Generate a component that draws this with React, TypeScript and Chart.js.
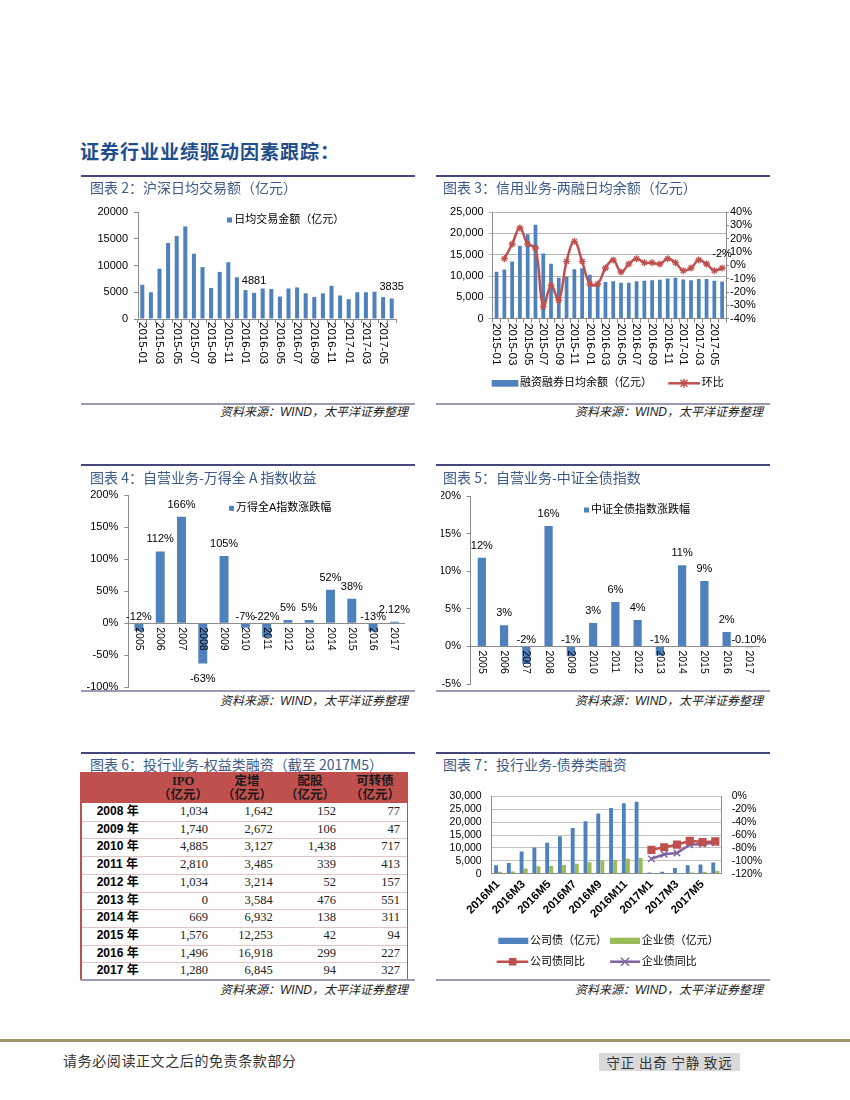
import React, { useEffect, useRef } from 'react';
import { Chart, registerables } from 'chart.js';

Chart.register(...registerables);

const SANS = "'Liberation Sans', Arial, 'Noto Sans CJK SC', sans-serif";
const CJK = "'Noto Sans CJK SC', 'Liberation Sans', sans-serif";
const SERIF = "'Liberation Serif', 'Noto Sans CJK SC', serif";

const BLUE = '#4F81BD';
const GREEN = '#9BBB59';
const RED = '#C0504D';
const PURPLE = '#8064A2';
const AXIS = '#8C8C8C';
const GRID = '#B4B4B4';
const TITLE = '#3D5A8A';
const RULE_TOP = '#46467F';
const RULE_BOTTOM = '#9A9AB5';

// ---------- data ----------
const months = [
  '2015-01', '2015-02', '2015-03', '2015-04', '2015-05', '2015-06', '2015-07', '2015-08', '2015-09', '2015-10',
  '2015-11', '2015-12', '2016-01', '2016-02', '2016-03', '2016-04', '2016-05', '2016-06', '2016-07', '2016-08',
  '2016-09', '2016-10', '2016-11', '2016-12', '2017-01', '2017-02', '2017-03', '2017-04', '2017-05', '2017-06',
];
const dailyTurnover = [
  6400, 5000, 9400, 14200, 15500, 17300, 12200, 9700, 5800, 8800,
  10600, 7800, 5400, 4881, 5700, 5600, 4200, 5700, 5900, 4800,
  4100, 4800, 6200, 4400, 3700, 5000, 5000, 5100, 4100, 3835,
];
const turnoverCallouts = ['2016-02', '2017-06'];

const marginBalance = [
  11000, 11500, 13400, 17100, 19800, 22000, 15300, 12900, 9600, 9900,
  11600, 11800, 10300, 8400, 8600, 8800, 8400, 8400, 8800, 8900,
  9000, 9100, 9400, 9600, 9200, 9000, 9300, 9300, 8900, 8700,
];
const marginMoM = [
  null, 5, 16, 28, 16, 13, -31, -15, -26, 3,
  18, 3, -14, -14, -2, 4, -5, 1, 5, 2,
  2, 1, 5, 2, -4, -2, 4, 1, -4, -2,
];
const marginMoMCallout = '-2%';

const years = ['2005', '2006', '2007', '2008', '2009', '2010', '2011', '2012', '2013', '2014', '2015', '2016', '2017'];
const windAReturn = [-12, 112, 166, -63, 105, -7, -22, 5, 5, 52, 38, -13, 2.12];
const windALabels = ['-12%', '112%', '166%', '-63%', '105%', '-7%', '-22%', '5%', '5%', '52%', '38%', '-13%', '2.12%'];
const bondReturn = [11.8, 2.8, -2.3, 16.0, -1.3, 3.1, 5.9, 3.5, -1.2, 10.8, 8.7, 1.9, -0.1];
const bondLabels = ['12%', '3%', '-2%', '16%', '-1%', '3%', '6%', '4%', '-1%', '11%', '9%', '2%', '-0.10%'];

const equityYears = ['2008 年', '2009 年', '2010 年', '2011 年', '2012 年', '2013 年', '2014 年', '2015 年', '2016 年', '2017 年'];
const equityHeads = ['IPO', '定增', '配股', '可转债'];
const ipoAmt = [1034, 1740, 4885, 2810, 1034, 0, 669, 1576, 1496, 1280];
const placementAmt = [1642, 2672, 3127, 3485, 3214, 3584, 6932, 12253, 16918, 6845];
const rightsAmt = [152, 106, 1438, 339, 52, 476, 138, 42, 299, 94];
const convertibleAmt = [77, 47, 717, 413, 157, 551, 311, 94, 227, 327];

const bondMonths = [
  '2016M1', '2016M2', '2016M3', '2016M4', '2016M5', '2016M6', '2016M7', '2016M8', '2016M9',
  '2016M10', '2016M11', '2016M12', '2017M1', '2017M2', '2017M3', '2017M4', '2017M5', '2017M6',
];
const corpBond = [3300, 4100, 8600, 10200, 12000, 14500, 17700, 20300, 23300, 25500, 27300, 27900, 450, 800, 2200, 3300, 3600, 4300];
const entBond = [800, 900, 2000, 2900, 3000, 3400, 3900, 4400, 5100, 5300, 5800, 6100, 100, 150, 250, 500, 800, 1000];
const corpBondYoY = [null, null, null, null, null, null, null, null, null, null, null, null, -83, -79, -75, -69, -71, -70];
const entBondYoY = [null, null, null, null, null, null, null, null, null, null, null, null, -97, -90, -88, -75, -74, -72];

// ---------- helpers ----------
const fixW = (w: number) => (s: any) => { s.width = w; };
const fixH = (h: number) => (s: any) => { s.height = h; };

function baseOptions(padding: any) {
  return {
    responsive: false,
    maintainAspectRatio: false,
    animation: false,
    devicePixelRatio: 1,
    events: [],
    layout: { padding },
    plugins: { legend: { display: false }, tooltip: { enabled: false }, title: { display: false } },
  };
}

function txt(ctx: CanvasRenderingContext2D, s: string, x: number, y: number, font: string, align: CanvasTextAlign = 'center', color = '#000') {
  ctx.save();
  ctx.font = font;
  ctx.fillStyle = color;
  ctx.textAlign = align;
  ctx.textBaseline = 'middle';
  ctx.fillText(s, x, y);
  ctx.restore();
}

function verticalTicks(chart: any, labels: string[], y: number, font: string, step: number) {
  const ctx: CanvasRenderingContext2D = chart.ctx;
  const xs = chart.scales.x;
  ctx.save();
  ctx.font = font;
  ctx.fillStyle = '#000';
  ctx.textAlign = 'left';
  ctx.textBaseline = 'middle';
  labels.forEach((lab, i) => {
    if (i % step !== 0) return;
    const x = xs.getPixelForValue(i);
    ctx.save();
    ctx.translate(x, y);
    ctx.rotate(Math.PI / 2);
    ctx.fillText(lab, 0, 0);
    ctx.restore();
  });
  ctx.restore();
}

function rect(ctx: CanvasRenderingContext2D, x: number, y: number, w: number, h: number, color: string) {
  ctx.save();
  ctx.fillStyle = color;
  ctx.fillRect(x, y, w, h);
  ctx.restore();
}

function seg(ctx: CanvasRenderingContext2D, x1: number, x2: number, y: number, color: string, lw: number) {
  ctx.save();
  ctx.strokeStyle = color;
  ctx.lineWidth = lw;
  ctx.beginPath();
  ctx.moveTo(x1, y);
  ctx.lineTo(x2, y);
  ctx.stroke();
  ctx.restore();
}

function marker(ctx: CanvasRenderingContext2D, kind: string, x: number, y: number, r: number, color: string) {
  ctx.save();
  ctx.strokeStyle = color;
  ctx.fillStyle = color;
  ctx.lineWidth = 1.5;
  if (kind === 'rect') {
    ctx.fillRect(x - r, y - r, 2 * r, 2 * r);
  } else {
    ctx.beginPath();
    ctx.moveTo(x - r, y - r); ctx.lineTo(x + r, y + r);
    ctx.moveTo(x + r, y - r); ctx.lineTo(x - r, y + r);
    if (kind === 'star') {
      ctx.moveTo(x - r * 1.3, y); ctx.lineTo(x + r * 1.3, y);
      ctx.moveTo(x, y - r * 1.3); ctx.lineTo(x, y + r * 1.3);
    }
    ctx.stroke();
  }
  ctx.restore();
}

// ---------- chart configs ----------
function turnoverConfig() {
  return {
    type: 'bar',
    data: {
      labels: months,
      datasets: [{ data: dailyTurnover, backgroundColor: BLUE, barPercentage: 0.47, categoryPercentage: 1 }],
    },
    options: {
      ...baseOptions({ left: 0, right: 19, top: 16, bottom: 0 }),
      scales: {
        x: {
          offset: true,
          grid: { drawOnChartArea: false, drawTicks: true, tickLength: 4, color: AXIS, offset: true },
          border: { color: AXIS },
          ticks: { display: false },
          afterFit: fixH(57),
        },
        y: {
          min: 0, max: 20000,
          ticks: { stepSize: 5000, autoSkip: false, color: '#000', padding: 6, font: { family: SANS, size: 11 }, callback: (v: any) => String(v) },
          grid: { drawOnChartArea: false, drawTicks: true, tickLength: 4, color: AXIS },
          border: { color: AXIS },
          afterFit: fixW(58),
        },
      },
    },
    plugins: [{
      id: 'turnoverDeco',
      afterDraw(chart: any) {
        const ctx = chart.ctx;
        verticalTicks(chart, months, chart.scales.x.top + 3, `11.5px ${SANS}`, 2);
        const meta = chart.getDatasetMeta(0);
        turnoverCallouts.forEach((m) => {
          const i = months.indexOf(m);
          const el = meta.data[i];
          txt(ctx, String(dailyTurnover[i]), el.x, el.y - 12, `11px ${SANS}`);
        });
        rect(ctx, 147, 21.5, 5, 5, BLUE);
        txt(ctx, '日均交易金额（亿元）', 154.3, 24, `11px ${SANS}`, 'left');
      },
    }],
  };
}

function marginConfig() {
  return {
    type: 'bar',
    data: {
      labels: months,
      datasets: [
        {
          type: 'line', data: marginMoM, yAxisID: 'y1', order: 0,
          borderColor: RED, borderWidth: 2.5, tension: 0.4, spanGaps: false,
          pointStyle: 'star', pointRadius: 3.5, pointBorderColor: RED, pointBorderWidth: 1.3, pointBackgroundColor: RED,
        },
        { type: 'bar', data: marginBalance, yAxisID: 'y', order: 1, backgroundColor: BLUE, barPercentage: 0.48, categoryPercentage: 1 },
      ],
    },
    options: {
      ...baseOptions({ left: 0, right: 0, top: 16, bottom: 0 }),
      scales: {
        x: {
          offset: true,
          grid: { drawOnChartArea: false, drawTicks: true, tickLength: 4, color: AXIS, offset: true },
          border: { color: AXIS },
          ticks: { display: false },
          afterFit: fixH(77.3),
        },
        y: {
          position: 'left', min: 0, max: 25000,
          ticks: { stepSize: 5000, autoSkip: false, color: '#000', padding: 5, font: { family: SANS, size: 11 }, callback: (v: any) => Number(v).toLocaleString('en-US') },
          grid: { drawOnChartArea: true, drawTicks: true, tickLength: 4, color: GRID },
          border: { color: AXIS },
          afterFit: fixW(56.7),
        },
        y1: {
          position: 'right', min: -40, max: 40,
          ticks: { stepSize: 10, autoSkip: false, color: '#000', padding: 1, font: { family: SANS, size: 11 }, callback: (v: any) => `${v}%` },
          grid: { drawOnChartArea: false, drawTicks: true, tickLength: 3, color: AXIS },
          border: { color: AXIS },
          afterFit: fixW(44),
        },
      },
    },
    plugins: [{
      id: 'marginDeco',
      afterDraw(chart: any) {
        const ctx = chart.ctx;
        verticalTicks(chart, months, chart.scales.x.top + 4.5, `11.5px ${SANS}`, 2);
        const meta = chart.getDatasetMeta(0);
        const last = meta.data[meta.data.length - 1];
        txt(ctx, marginMoMCallout, last.x, last.y - 14, `11px ${SANS}`);
        rect(ctx, 55.7, 184, 26.6, 6.7, BLUE);
        txt(ctx, '融资融券日均余额（亿元）', 84, 187.3, `11px ${SANS}`, 'left');
        seg(ctx, 232.3, 264, 187.3, RED, 2.5);
        marker(ctx, 'star', 248, 187.3, 3.5, RED);
        txt(ctx, '环比', 265.7, 187.3, `11px ${SANS}`, 'left');
      },
    }],
  };
}

function returnConfig(values: number[], labels: string[], legend: string, o: any) {
  return {
    type: 'bar',
    data: {
      labels: years,
      datasets: [{ data: values, backgroundColor: BLUE, barPercentage: o.barPct, categoryPercentage: 1 }],
    },
    options: {
      ...baseOptions(o.padding),
      scales: {
        x: { display: false, offset: true },
        y: {
          min: o.min, max: o.max,
          ticks: { stepSize: o.step, autoSkip: false, color: '#000', padding: o.tickPad, font: { family: SANS, size: 11 }, callback: (v: any) => `${v}%` },
          grid: { drawOnChartArea: false, drawTicks: true, tickLength: 4, color: AXIS },
          border: { color: AXIS },
          afterFit: fixW(o.axisW),
        },
      },
    },
    plugins: [{
      id: 'returnDeco',
      afterDatasetsDraw(chart: any) {
        const ctx = chart.ctx;
        const ys = chart.scales.y;
        const y0 = ys.getPixelForValue(0);
        seg(ctx, chart.chartArea.left, chart.chartArea.right, Math.round(y0) + 0.5, AXIS, 1);
        verticalTicks(chart, years, y0 + 4, `10.5px ${SANS}`, 1);
        const meta = chart.getDatasetMeta(0);
        meta.data.forEach((el: any, i: number) => {
          const v = values[i];
          let ly: number;
          if (v >= 0) ly = el.y - 12;
          else if (v < -30) ly = el.y + 15;
          else ly = y0 - 6;
          txt(ctx, labels[i], el.x, ly, `11px ${SANS}`);
        });
        rect(ctx, o.legendX, o.legendY - 2.5, 5, 5, BLUE);
        txt(ctx, legend, o.legendX + 7, o.legendY, `11px ${SANS}`, 'left');
      },
    }],
  };
}

function bondConfig() {
  return {
    type: 'bar',
    data: {
      labels: bondMonths,
      datasets: [
        {
          type: 'line', data: corpBondYoY, yAxisID: 'y1', order: 0,
          borderColor: RED, borderWidth: 2.5, tension: 0,
          pointStyle: 'rect', pointRadius: 4, pointBackgroundColor: RED, pointBorderColor: RED,
        },
        {
          type: 'line', data: entBondYoY, yAxisID: 'y1', order: 0,
          borderColor: PURPLE, borderWidth: 2.5, tension: 0,
          pointStyle: 'crossRot', pointRadius: 4.5, pointBorderColor: PURPLE, pointBorderWidth: 1.5,
        },
        { type: 'bar', data: corpBond, yAxisID: 'y', order: 1, backgroundColor: BLUE, barPercentage: 0.95, categoryPercentage: 0.64 },
        { type: 'bar', data: entBond, yAxisID: 'y', order: 1, backgroundColor: GREEN, barPercentage: 0.95, categoryPercentage: 0.64 },
      ],
    },
    options: {
      ...baseOptions({ left: 0, right: 0, top: 7.7, bottom: 0 }),
      scales: {
        x: {
          offset: true,
          grid: { drawOnChartArea: false, drawTicks: false, color: AXIS },
          border: { color: AXIS },
          ticks: {
            autoSkip: false, minRotation: 45, maxRotation: 45, padding: 4, color: '#000',
            font: { family: SANS, size: 11.5, weight: 'bold' },
            callback: function (this: any, v: any, i: number) { return i % 2 === 0 ? this.getLabelForValue(v) : ''; },
          },
          afterFit: fixH(101.3),
        },
        y: {
          position: 'left', min: 0, max: 30000,
          ticks: { stepSize: 5000, autoSkip: false, color: '#000', padding: 10, font: { family: SANS, size: 10.5 }, callback: (v: any) => Number(v).toLocaleString('en-US') },
          grid: { drawOnChartArea: true, drawTicks: false, color: '#C4C4C4' },
          border: { color: AXIS },
          afterFit: fixW(55.7),
        },
        y1: {
          position: 'right', min: -120, max: 0,
          ticks: { stepSize: 20, autoSkip: false, color: '#000', padding: 10, font: { family: SANS, size: 10.5 }, callback: (v: any) => `${v}%` },
          grid: { drawOnChartArea: false, drawTicks: false },
          border: { color: AXIS },
          afterFit: fixW(48.3),
        },
      },
    },
    plugins: [{
      id: 'bondDeco',
      afterDraw(chart: any) {
        const ctx = chart.ctx;
        const f = `11px ${SANS}`;
        rect(ctx, 62.3, 157.7, 30, 6.3, BLUE);
        txt(ctx, '公司债（亿元）', 94, 160.8, f, 'left');
        rect(ctx, 174, 157.7, 30, 6.3, GREEN);
        txt(ctx, '企业债（亿元）', 205.7, 160.8, f, 'left');
        seg(ctx, 60.7, 92.3, 181.7, RED, 2.5);
        marker(ctx, 'rect', 76.7, 181.7, 3.8, RED);
        txt(ctx, '公司债同比', 94, 181.7, f, 'left');
        seg(ctx, 174, 204, 181.7, PURPLE, 2.5);
        marker(ctx, 'cross', 189, 181.7, 4, PURPLE);
        txt(ctx, '企业债同比', 205.7, 181.7, f, 'left');
      },
    }],
  };
}

// ---------- components ----------
function ChartCanvas({ left, top, width, height, config }: { left: number; top: number; width: number; height: number; config: () => any }) {
  const ref = useRef<HTMLCanvasElement | null>(null);
  useEffect(() => {
    if (!ref.current) return;
    const chart = new Chart(ref.current, config());
    return () => chart.destroy();
  }, []);
  return <canvas ref={ref} width={width} height={height} style={{ position: 'absolute', left, top, width, height }} />;
}

function Panel({ x0, x1, titleX, srcRight, top, titleY, bottom, srcY, title }: any) {
  return (
    <>
      <div style={{ position: 'absolute', left: x0, top: top - 1, width: x1 - x0, height: 2, background: RULE_TOP }} />
      <div style={{ position: 'absolute', left: titleX, top: titleY - 10, height: 20, lineHeight: '20px', fontSize: 14, color: TITLE, fontFamily: CJK, whiteSpace: 'nowrap', zIndex: 2 }}>{title}</div>
      <div style={{ position: 'absolute', left: x0, top: bottom - 1, width: x1 - x0, height: 2, background: RULE_BOTTOM }} />
      <div style={{ position: 'absolute', right: 850 - srcRight, top: srcY - 8, height: 16, lineHeight: '16px', fontSize: 12, fontStyle: 'italic', fontFamily: SANS, color: '#222', whiteSpace: 'nowrap' }}>
        资料来源：WIND，太平洋证券整理
      </div>
    </>
  );
}

function EquityTable() {
  const colCenters = [183, 247, 310, 375];
  const colRights = [208, 272.7, 336, 400];
  const cols = [ipoAmt, placementAmt, rightsAmt, convertibleAmt];
  const headTop = 772;
  const rowTop = 803;
  const rowH = 17.72;
  return (
    <>
      <div style={{ position: 'absolute', left: 80, top: headTop, width: 328, height: rowTop - headTop, background: RED }} />
      {equityHeads.map((h, j) => (
        <div key={h} style={{ position: 'absolute', left: colCenters[j] - 32, width: 64, top: headTop + 2, textAlign: 'center', fontFamily: SERIF, fontWeight: 700, fontSize: 12.5, lineHeight: '14px', color: '#1a1a1a' }}>
          {h}<br />（亿元）
        </div>
      ))}
      <div style={{ position: 'absolute', left: 80, top: rowTop, width: 2, height: rowH * 10, background: RED }} />
      <div style={{ position: 'absolute', left: 406.5, top: rowTop, width: 1.5, height: rowH * 10, background: RED }} />
      {equityYears.map((y, i) => (
        <React.Fragment key={y}>
          {i > 0 && <div style={{ position: 'absolute', left: 82, top: rowTop + i * rowH, width: 324.5, height: 1, background: '#E2C4C4' }} />}
          <div style={{ position: 'absolute', left: 96.7, top: rowTop + i * rowH, height: rowH, lineHeight: `${rowH}px`, fontFamily: SANS, fontWeight: 700, fontSize: 12, color: '#000', whiteSpace: 'nowrap' }}>{y}</div>
          {cols.map((c, j) => (
            <div key={j} style={{ position: 'absolute', right: 850 - colRights[j], top: rowTop + i * rowH, height: rowH, lineHeight: `${rowH}px`, fontFamily: SERIF, fontSize: 12.5, color: '#222', whiteSpace: 'nowrap' }}>
              {c[i].toLocaleString('en-US')}
            </div>
          ))}
        </React.Fragment>
      ))}
    </>
  );
}

export default function App() {
  const left = { x0: 81, x1: 415, titleX: 90, srcRight: 408 };
  const right = { x0: 436, x1: 770, titleX: 443, srcRight: 763 };
  const row1 = { top: 176, titleY: 187.3, bottom: 404, srcY: 412 };
  const row2 = { top: 465, titleY: 477, bottom: 691, srcY: 700.5 };
  const row3 = { top: 753.3, titleY: 763.5, bottom: 980, srcY: 989.5 };
  return (
    <div style={{ position: 'absolute', left: 0, top: 0, width: 850, height: 1100, background: '#fff', overflow: 'hidden' }}>
      <div style={{ position: 'absolute', left: 80, top: 137.5, height: 26, lineHeight: '26px', fontSize: 19, fontWeight: 700, letterSpacing: 1, color: '#1F4E8C', fontFamily: CJK, whiteSpace: 'nowrap' }}>
        证券行业业绩驱动因素跟踪：
      </div>

      <EquityTable />

      <Panel {...left} {...row1} title="图表 2：沪深日均交易额（亿元）" />
      <Panel {...right} {...row1} title="图表 3：信用业务-两融日均余额（亿元）" />
      <Panel {...left} {...row2} title="图表 4：自营业务-万得全 A 指数收益" />
      <Panel {...right} {...row2} title="图表 5：自营业务-中证全债指数" />
      <Panel {...left} {...row3} title="图表 6：投行业务-权益类融资（截至 2017M5）" />
      <Panel {...right} {...row3} title="图表 7：投行业务-债券类融资" />

      <ChartCanvas left={80} top={196} width={335} height={180} config={turnoverConfig} />
      <ChartCanvas left={436} top={196} width={334} height={200} config={marginConfig} />
      <ChartCanvas
        left={80} top={480} width={335} height={220}
        config={() => returnConfig(windAReturn, windALabels, '万得全A指数涨跌幅', {
          barPct: 0.42, padding: { left: 0, right: 10, top: 15, bottom: 12.7 }, min: -100, max: 200, step: 50,
          tickPad: 6, axisW: 48.3, legendX: 149, legendY: 28.3,
        })}
      />
      <ChartCanvas
        left={441} top={480} width={329} height={220}
        config={() => returnConfig(bondReturn, bondLabels, '中证全债指数涨跌幅', {
          barPct: 0.37, padding: { left: 0, right: 10, top: 16, bottom: 16 }, min: -5, max: 20, step: 5,
          tickPad: 5.7, axisW: 29.7, legendX: 143, legendY: 30,
        })}
      />
      <ChartCanvas left={436} top={780} width={334} height={195} config={bondConfig} />

      <div style={{ position: 'absolute', left: 0, top: 1038.5, width: 850, height: 3, background: '#9E9868' }} />
      <div style={{ position: 'absolute', left: 63, top: 1050, height: 20, lineHeight: '20px', fontSize: 14, letterSpacing: 0.6, color: '#333', fontFamily: CJK, whiteSpace: 'nowrap' }}>
        请务必阅读正文之后的免责条款部分
      </div>
      <div style={{ position: 'absolute', left: 599, top: 1053, width: 141, height: 18, lineHeight: '18px', background: '#D9D9D9', textAlign: 'center', fontSize: 13.5, letterSpacing: 0.8, color: '#333', fontFamily: CJK, whiteSpace: 'nowrap' }}>
        守正 出奇 宁静 致远
      </div>
    </div>
  );
}
